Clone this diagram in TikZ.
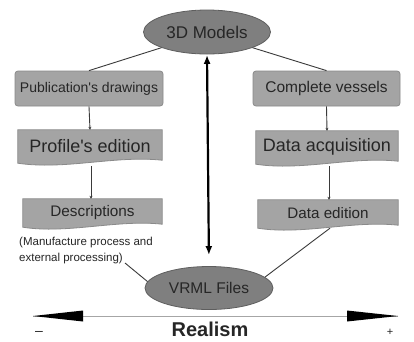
\documentclass[tikz,border=0pt]{standalone}
\usepackage{fontspec}
\setmainfont{Liberation Sans}
\usetikzlibrary{shapes.geometric,arrows.meta,calc,backgrounds}
\definecolor{boxfill}{HTML}{A4A4A4}
\definecolor{boxline}{HTML}{8A8A8A}
\definecolor{ellfill}{HTML}{7F7F7F}
\definecolor{ellline}{HTML}{5E5E5E}
\definecolor{txt}{HTML}{262626}
\definecolor{conn}{HTML}{3A3A3A}
\tikzset{
  ellnode/.style={ellipse,fill=ellfill,draw=ellline,line width=0.8pt,text=txt,inner sep=0pt},
  roundbox/.style={rectangle,rounded corners=3pt,fill=boxfill,draw=boxline,line width=0.8pt,text=txt,inner sep=0pt},
  docbox/.style={rectangle,inner sep=0pt,text=txt},
  docshape/.style={fill=boxfill,draw=boxline,line width=0.8pt},
  link/.style={draw=conn,line width=0.9pt},
  linkarrow/.style={draw=conn,line width=0.9pt,-{Stealth[length=3pt,width=3pt]}},
}
\begin{document}
\begin{tikzpicture}[x=1pt,y=-1pt]
\useasboundingbox (0,0) rectangle (414,341);

% nodes
\node[ellnode,minimum width=127pt,minimum height=44pt,font=\fontsize{17}{20}\selectfont] (m3d) at (207,32) {3D Models};
\node[roundbox,minimum width=148pt,minimum height=35pt,font=\fontsize{14}{17}\selectfont] (pub) at (89,88.5) {Publication\textquotesingle s drawings};
\node[roundbox,minimum width=147pt,minimum height=35pt,font=\fontsize{15.5}{18}\selectfont] (comp) at (326.5,88.5) {Complete vessels};
\node[docbox,minimum width=144pt,minimum height=32pt,font=\fontsize{18}{21}\selectfont] (prof) at (90,146) {Profile\textquotesingle s edition};
\node[docbox,minimum width=139pt,minimum height=27pt,font=\fontsize{15.3}{18}\selectfont] (desc) at (92.5,212.5) {Descriptions};
\node[docbox,minimum width=142pt,minimum height=32pt,font=\fontsize{18}{21}\selectfont] (acq) at (327,147) {Data acquisition};
\node[docbox,minimum width=140pt,minimum height=27pt,font=\fontsize{15.2}{18}\selectfont] (edit) at (328,213.5) {Data edition};
\node[ellnode,minimum width=128pt,minimum height=43pt,font=\fontsize{15.5}{18}\selectfont] (vrml) at (209,288) {VRML Files};
\node[anchor=north west,align=left,inner sep=0pt,text=txt,font=\fontsize{11.5}{16}\selectfont] (note) at (19,237) {(Manufacture process and\\external processing)};
\coordinate (noteend) at (125,263);

% white background and document shapes on background layer
\begin{scope}[on background layer]
\fill[white] (0,0) rectangle (414,341);
\foreach \n in {prof,desc,acq,edit}{
  \path[docshape] (\n.north west) -- (\n.north east) -- ($(\n.south east)+(0,-2)$)
    .. controls ($(\n.south)+(25,-7)$) and ($(\n.south)+(-25,8)$) .. ($(\n.south west)+(0,1)$) -- cycle;
}
\end{scope}

% connectors
\draw[link] (m3d.199) -- (pub.north);
\draw[link] (m3d.341) -- (comp.north);
\draw[linkarrow] (pub.south) -- (prof.north);
\draw[linkarrow] (comp.south) -- (acq.north);
\draw[linkarrow] ($(prof.south)+(1,4)$) -- ($(desc.north)+(-1.5,0)$);
\draw[linkarrow] ($(acq.south)+(2,3)$) -- ($(edit.north)+(1,0)$);
\draw[link] ($(edit.south)+(2,1)$) -- (vrml.11);
\draw[link] (noteend) -- (vrml.174);

% central double arrow
\draw[line width=2.2pt,{Latex[length=9pt,width=7pt]}-{Latex[length=9pt,width=7pt]},shorten <=0.5pt,shorten >=11pt] (m3d.south) -- (vrml.north);

% realism arrow
\coordinate (rl) at (33,316);
\coordinate (rr) at (398,316);
\draw[draw=gray!70,line width=0.6pt] (rl) -- (rr);
\fill[black] (rl) -- ($(rl)+(50,-5.5)$) -- ($(rl)+(50,5.5)$) -- cycle;
\fill[black] (rr) -- ($(rr)+(-51,-5.5)$) -- ($(rr)+(-51,5.5)$) -- cycle;
\node[font=\bfseries\fontsize{20}{24}\selectfont,text=txt,inner sep=0pt] (realism) at (210,329) {Realism};
\node[font=\fontsize{14}{16}\selectfont,text=txt,inner sep=0pt] (minus) at (39,333) {\textendash};
\node[font=\fontsize{11}{13}\selectfont,text=txt,inner sep=0pt] (plus) at (390,332) {+};
\end{tikzpicture}
\end{document}
